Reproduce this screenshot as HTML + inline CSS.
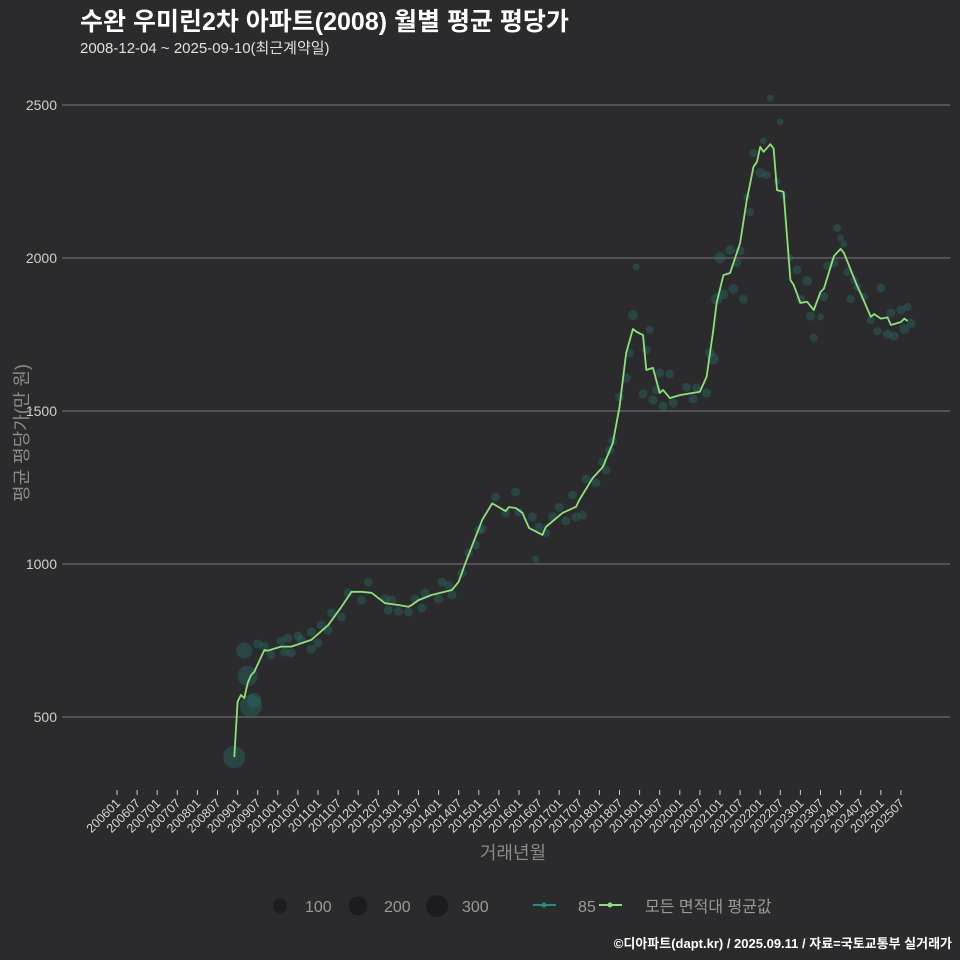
<!DOCTYPE html>
<html><head><meta charset="utf-8">
<style>
html,body{margin:0;padding:0;background:#2b2a2c;}
body{position:relative;width:960px;height:960px;overflow:hidden;}
svg{display:block;font-family:"Liberation Sans","Noto Sans CJK KR",sans-serif;}
#ytitle{position:absolute;left:22px;top:433px;transform:translate(-50%,-50%) rotate(-90deg);white-space:nowrap;color:#8a8a8a;font-size:18px;font-family:"Liberation Sans","Noto Sans CJK KR",sans-serif;line-height:1;}
</style></head>
<body>
<svg id="chart" width="960" height="960" viewBox="0 0 960 960">
<rect x="0" y="0" width="960" height="960" fill="#2b2a2c"/>
<text x="80" y="30" fill="#ffffff" font-size="25" font-weight="bold">수완 우미린2차 아파트(2008) 월별 평균 평당가</text>
<text x="80" y="53" fill="#e0e0e0" font-size="15">2008-12-04 ~ 2025-09-10(최근계약일)</text>
<g id="grid"></g>
<g id="xaxis"></g>
<g id="scatter"></g>
<g id="line"></g>
<text x="513" y="859" text-anchor="middle" fill="#8a8a8a" font-size="18">거래년월</text>
<g>
  <circle cx="280" cy="906" r="7" fill="#1c1b1d"/>
  <text x="305" y="912" fill="#9a9a9a" font-size="16">100</text>
  <circle cx="358" cy="906" r="9.5" fill="#1c1b1d"/>
  <text x="384" y="912" fill="#9a9a9a" font-size="16">200</text>
  <circle cx="437" cy="906" r="11" fill="#1c1b1d"/>
  <text x="462" y="912" fill="#9a9a9a" font-size="16">300</text>
  <line x1="533" y1="905" x2="556" y2="905" stroke="#2a8a84" stroke-width="2"/>
  <circle cx="544" cy="905" r="2.5" fill="#2a8a84"/>
  <text x="578" y="912" fill="#9a9a9a" font-size="16">85</text>
  <line x1="599" y1="905" x2="622" y2="905" stroke="#8ee07e" stroke-width="2"/>
  <circle cx="610" cy="905" r="2.5" fill="#8ee07e"/>
  <text x="645" y="912" fill="#9a9a9a" font-size="16">모든 면적대 평균값</text>
</g>
<text x="952" y="948" text-anchor="end" fill="#ffffff" font-size="13" font-weight="bold">©디아파트(dapt.kr) / 2025.09.11 / 자료=국토교통부 실거래가</text>
</svg>
<div id="ytitle">평균 평당가(만 원)</div>
<script>
// month index = months since 2006-01
const yTicks = [500, 1000, 1500, 2000, 2500];
const lineMonths = [35,36,37,38,39,40,41,44,45,49,52,58,63,67,70,73,76,80,84,87,88,90,94,100,102,104,109,112,116,117,119,121,123,127,128,133,137,138,142,145,148,150,152,154,155,157,158,160,162,163,165,168,174,176,178,179,181,183,186,188,190,191,192,193,195,196,197,199,201,202,204,206,208,210,211,214,216,217,221,222,225,226,228,230,231,234,235,236];
const lineValues = [369,550,572,562,611,637,648,719,717,730,730,752,800,860,909,909,906,872,866,860,866,882,899,915,942,1003,1144,1198,1173,1186,1183,1167,1118,1095,1121,1167,1187,1209,1281,1317,1395,1513,1690,1768,1759,1748,1634,1641,1559,1569,1542,1552,1563,1612,1765,1853,1944,1951,2049,2190,2298,2314,2363,2347,2372,2358,2222,2216,1928,1912,1853,1857,1830,1889,1900,2006,2030,2016,1907,1884,1808,1817,1802,1806,1781,1791,1802,1794];
const dotMonths = [35,38,39,40,41,42,44,46,49,50,51,52,54,55,58,58,60,61,63,64,67,69,73,75,80,81,82,84,87,89,91,92,96,97,99,100,103,105,107,108,109,113,116,119,120,124,125,126,128,130,132,134,136,137,139,140,143,145,146,147,148,150,152,153,154,155,157,158,159,160,161,162,163,165,166,170,172,173,176,177,178,179,180,181,183,184,185,186,187,188,189,190,192,193,194,195,197,198,199,201,203,204,206,207,208,210,211,212,214,215,216,217,218,219,220,221,223,225,227,228,230,231,232,234,235,236,237];
const dotValues = [369,717,634,536,555,739,732,703,748,712,758,709,765,752,778,722,742,800,784,840,827,905,882,941,886,850,882,846,843,886,856,905,886,941,931,899,970,1036,1062,1111,1114,1219,1167,1235,1170,1154,1016,1121,1101,1154,1186,1141,1225,1154,1160,1278,1265,1333,1307,1372,1402,1546,1608,1690,1814,1971,1556,1699,1765,1536,1569,1624,1516,1621,1526,1578,1539,1575,1559,1690,1670,1866,2000,1882,2026,1899,1984,2023,1866,2200,2150,2343,2278,2383,2271,2523,2252,2445,2203,2000,1961,1866,1925,1810,1739,1807,1873,1974,1984,2098,2065,2046,1954,1866,1928,1905,1873,1797,1761,1902,1751,1820,1745,1830,1768,1840,1787];
const dotCounts = [300,160,250,300,120,50,50,50,50,50,50,50,50,50,50,50,50,50,50,50,50,50,50,50,50,50,50,50,50,50,50,50,50,50,50,50,50,50,50,50,50,50,50,50,50,50,30,50,50,50,50,50,50,50,50,50,50,50,50,50,50,50,50,50,60,30,50,50,40,50,50,50,50,50,50,50,50,50,50,60,80,80,80,60,60,60,50,50,50,30,40,40,60,30,40,30,30,30,30,30,50,50,60,50,40,30,50,40,50,40,30,30,40,40,40,40,40,40,40,50,50,50,50,50,60,40,50,50,40];
const xTickMonths = [];
for (let i = 0; i <= 234; i += 6) xTickMonths.push(i);

const NS = "http://www.w3.org/2000/svg";
const X0 = 117, PXM = 3.35;
function xScale(m){ return X0 + m * PXM; }
function yScale(v){ return 717 - (v - 500) * 0.306; }
function tickLabel(m){ const y = 2006 + Math.floor(m/12); const mo = (m%12)+1; return "" + y + (mo<10?"0":"") + mo; }

const grid = document.getElementById("grid");
yTicks.forEach(t => {
  const ln = document.createElementNS(NS, "line");
  ln.setAttribute("x1", 62); ln.setAttribute("x2", 950);
  ln.setAttribute("y1", yScale(t)); ln.setAttribute("y2", yScale(t));
  ln.setAttribute("stroke", "#6a696b"); ln.setAttribute("stroke-width", "1.2");
  
  
  grid.appendChild(ln);
  const tx = document.createElementNS(NS, "text");
  tx.setAttribute("x", 57); tx.setAttribute("y", yScale(t) + 5);
  tx.setAttribute("text-anchor", "end"); tx.setAttribute("fill", "#d0d0d0"); tx.setAttribute("font-size", "14");
  tx.textContent = t;
  
  
  grid.appendChild(tx);
});

const xa = document.getElementById("xaxis");
xTickMonths.forEach(m => {
  const x = xScale(m);
  const tk = document.createElementNS(NS, "line");
  tk.setAttribute("x1", x); tk.setAttribute("x2", x); tk.setAttribute("y1", 790); tk.setAttribute("y2", 795);
  tk.setAttribute("stroke", "#cccccc"); tk.setAttribute("stroke-width", "1");
  
  
  xa.appendChild(tk);
  const tx = document.createElementNS(NS, "text");
  tx.setAttribute("transform", "translate(" + (x + 4) + ",804) rotate(-45)");
  tx.setAttribute("text-anchor", "end"); tx.setAttribute("fill", "#d8d8d8"); tx.setAttribute("font-size", "12.5");
  tx.textContent = tickLabel(m);
  
  
  xa.appendChild(tx);
});

const sc = document.getElementById("scatter");
dotMonths.forEach((m, i) => {
  const c = document.createElementNS(NS, "circle");
  c.setAttribute("cx", xScale(m)); c.setAttribute("cy", yScale(dotValues[i]));
  c.setAttribute("r", 0.64 * Math.sqrt(dotCounts[i]));
  c.setAttribute("fill", "rgba(40,125,118,0.33)");
  
  
  sc.appendChild(c);
});

const lg = document.getElementById("line");
const pts = lineMonths.map((m, i) => xScale(m).toFixed(1) + "," + yScale(lineValues[i]).toFixed(1)).join(" ");
const pl = document.createElementNS(NS, "polyline");
pl.setAttribute("points", pts);
pl.setAttribute("fill", "none"); pl.setAttribute("stroke", "#8ee07e"); pl.setAttribute("stroke-width", "1.8");
pl.setAttribute("stroke-linejoin", "round");


lg.appendChild(pl);
</script>
</body></html>
